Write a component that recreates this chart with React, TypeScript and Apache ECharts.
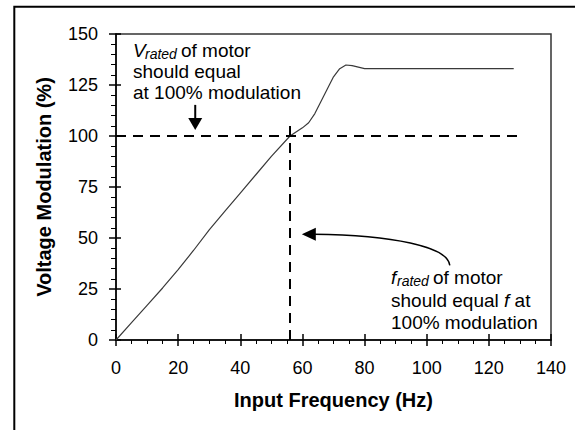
import React, { useEffect, useRef } from "react";
import * as echarts from "echarts";

const FONT = "'Liberation Sans', Arial, sans-serif";

// Axis settings
const xMin = 0;
const xMax = 140;
const xInterval = 20;
const yMin = 0;
const yMax = 150;
const yInterval = 25;

// Voltage modulation curve
const frequency = [0, 5, 10, 15, 20, 25, 30, 35, 40, 45, 50, 56, 60, 62, 64, 66, 68, 70, 72, 74, 76, 80, 128];
const modulation = [0, 8.5, 17, 25.5, 34.5, 44, 54, 63, 72, 81, 90, 100, 104, 106.5, 111, 117, 123, 129, 133, 134.8, 134.5, 133, 133];

// Reference dashed lines
const ratedModX = [0, 131];
const ratedModY = [100, 100];
const ratedFreqX = [56, 56];
const ratedFreqY = [0, 106];

// Arrow anchor points (data coordinates)
const downArrowTip = [25.5, 103];
const leftArrowTip = [59.8, 51.8];

export default function App() {
  const ref = useRef<HTMLDivElement>(null);

  useEffect(() => {
    if (!ref.current) return;
    const chart = echarts.init(ref.current, null, { renderer: "svg" });

    const axisLineStyle = { color: "#000", width: 1.5 };
    const option: any = {
      animation: false,
      backgroundColor: "#fff",
      grid: {
        left: 116,
        top: 34,
        right: 24,
        bottom: 90,
        show: true,
        borderColor: "#333",
        borderWidth: 1.5,
        backgroundColor: "transparent",
      },
      xAxis: [
        {
          type: "value",
          min: xMin,
          max: xMax,
          interval: xInterval,
          axisLine: { show: true, lineStyle: axisLineStyle },
          axisTick: { show: true, length: 6, lineStyle: { color: "#000", width: 1.5 } },
          minorTick: { show: true, splitNumber: 4, length: 4, lineStyle: { color: "#000", width: 1 } },
          splitLine: { show: false },
          minorSplitLine: { show: false },
          axisLabel: { fontSize: 18, color: "#000", margin: 19, fontFamily: FONT },
          name: "Input Frequency (Hz)",
          nameLocation: "middle",
          nameGap: 50,
          nameTextStyle: { fontSize: 20, fontWeight: "bold", color: "#000", fontFamily: FONT },
        },
        {
          type: "value",
          position: "bottom",
          min: xMin,
          max: xMax,
          interval: xInterval,
          axisLine: { show: false },
          axisTick: { show: true, inside: true, length: 6, lineStyle: { color: "#000", width: 1.5 } },
          axisLabel: { show: false },
          splitLine: { show: false },
        },
      ],
      yAxis: [
        {
          type: "value",
          min: yMin,
          max: yMax,
          interval: yInterval,
          axisLine: { show: true, lineStyle: axisLineStyle },
          axisTick: { show: true, length: 7, lineStyle: { color: "#000", width: 1.5 } },
          minorTick: { show: true, splitNumber: 5, length: 5, lineStyle: { color: "#000", width: 1 } },
          splitLine: { show: false },
          minorSplitLine: { show: false },
          axisLabel: { fontSize: 18, color: "#000", margin: 18, fontFamily: FONT },
          name: "Voltage Modulation (%)",
          nameLocation: "middle",
          nameGap: 62,
          nameTextStyle: { fontSize: 20, fontWeight: "bold", color: "#000", fontFamily: FONT },
        },
        {
          type: "value",
          position: "left",
          min: yMin,
          max: yMax,
          interval: yInterval,
          axisLine: { show: false },
          axisTick: { show: true, inside: true, length: 5, lineStyle: { color: "#000", width: 1.5 } },
          axisLabel: { show: false },
          splitLine: { show: false },
        },
      ],
      series: [
        {
          type: "line",
          data: frequency.map((f, i) => [f, modulation[i]]),
          showSymbol: false,
          symbol: "none",
          lineStyle: { color: "#3a3a3a", width: 1.2 },
          silent: true,
        },
        {
          type: "line",
          data: ratedModX.map((x, i) => [x, ratedModY[i]]),
          showSymbol: false,
          symbol: "none",
          lineStyle: { color: "#000", width: 2, type: [10, 7] },
          silent: true,
        },
        {
          type: "line",
          data: ratedFreqX.map((x, i) => [x, ratedFreqY[i]]),
          showSymbol: false,
          symbol: "none",
          lineStyle: { color: "#000", width: 2, type: [10, 7] },
          silent: true,
        },
      ],
    };
    chart.setOption(option);

    const d = chart.convertToPixel({ gridIndex: 0 }, downArrowTip) as number[];
    const l = chart.convertToPixel({ gridIndex: 0 }, leftArrowTip) as number[];

    const txt = (x: number, y: number, text: string, size = 19, italic = false) => ({
      type: "text",
      x,
      y,
      style: {
        text,
        fill: "#000",
        font: `${italic ? "italic " : ""}${size}px ${FONT}`,
        verticalAlign: "middle",
        align: "left",
      },
    });

    chart.setOption({
      graphic: [
        {
          type: "rect",
          shape: { x: 14.3, y: 6.7, width: 700, height: 600 },
          style: { fill: "none", stroke: "#000", lineWidth: 2 },
          silent: true,
        },
        // upper annotation
        txt(133, 50, "V", 19, true),
        txt(145, 54, "rated", 14, true),
        txt(181, 50, "of motor"),
        txt(133, 71, "should equal"),
        txt(133, 92, "at 100% modulation"),
        // down arrow
        {
          type: "line",
          shape: { x1: d[0], y1: d[1] - 25, x2: d[0], y2: d[1] - 10 },
          style: { stroke: "#000", lineWidth: 2 },
        },
        {
          type: "polygon",
          shape: { points: [[d[0] - 7, d[1] - 12], [d[0] + 7, d[1] - 12], [d[0], d[1]]] },
          style: { fill: "#000" },
        },
        // left arrow
        {
          type: "bezierCurve",
          shape: {
            x1: l[0] + 148,
            y1: l[1] + 31,
            cpx1: l[0] + 146,
            cpy1: l[1] + 12,
            cpx2: l[0] + 90,
            cpy2: l[1] + 1,
            x2: l[0] + 12,
            y2: l[1],
          },
          style: { stroke: "#000", lineWidth: 1.5, fill: "none" },
        },
        {
          type: "polygon",
          shape: { points: [[l[0], l[1]], [l[0] + 14, l[1] - 6.5], [l[0] + 14, l[1] + 6.5]] },
          style: { fill: "#000" },
        },
        // lower annotation
        txt(391, 277, "f", 19, true),
        txt(397, 281, "rated", 14, true),
        txt(433, 277, "of motor"),
        {
          type: "text",
          x: 391,
          y: 300,
          style: {
            text: "{n|should equal }{i|f}{n| at}",
            verticalAlign: "middle",
            align: "left",
            rich: {
              n: { fontSize: 19, fontFamily: FONT, fill: "#000" },
              i: { fontSize: 19, fontFamily: FONT, fontStyle: "italic", fill: "#000" },
            },
          },
        },
        txt(391, 322, "100% modulation"),
      ],
    });

    return () => chart.dispose();
  }, []);

  return (
    <div
      ref={ref}
      style={{ position: "absolute", left: 0, top: 0, width: 575, height: 430 }}
    />
  );
}
